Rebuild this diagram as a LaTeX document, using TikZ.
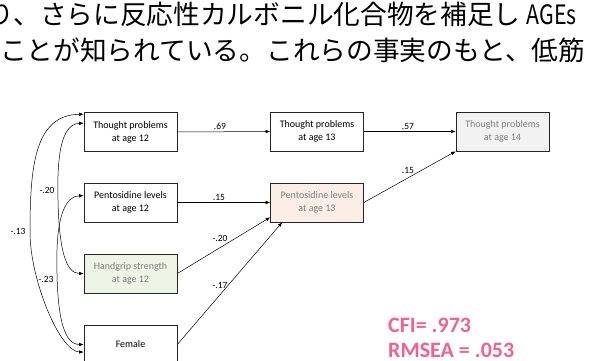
\documentclass[tikz,border=0pt]{standalone}
\usepackage{fontspec}
\usepackage{graphicx}
\setmainfont{Carlito}
\newfontfamily\jpfont{Noto Sans CJK JP}
\usetikzlibrary{arrows.meta,calc}
\definecolor{cfipink}{RGB}{240,98,146}
\definecolor{hgfill}{RGB}{237,244,229}
\definecolor{pfill}{RGB}{251,238,230}
\definecolor{tfill}{RGB}{242,242,242}
\definecolor{softtext}{RGB}{128,128,128}
\begin{document}
\begin{tikzpicture}[x=1pt,y=-1pt,
  box/.style={draw=black!85, line width=0.6pt, minimum width=93pt, minimum height=39pt,
    inner sep=0pt, align=center, font=\fontsize{10}{13}\selectfont},
  softbox/.style={box, text=softtext},
  arr/.style={-{Latex[length=4.5pt,width=3.5pt]}, line width=0.5pt},
  darr/.style={{Latex[length=4.5pt,width=3.5pt]}-{Latex[length=4.5pt,width=3.5pt]}, line width=0.5pt},
  lab/.style={font=\fontsize{9.5}{11}\selectfont, inner sep=0pt},
  jp/.style={font=\jpfont\fontsize{26.7}{30}\selectfont, inner sep=0pt, anchor=base west},
  fit/.style={font=\fontsize{22}{25}\selectfont\bfseries, text=cfipink, inner sep=0pt, anchor=base west}
]
\useasboundingbox (0,0) rectangle (591,361);

% Japanese text lines
\node[jp] (jp1) at (-12.5,25) {り、さらに反応性カルボニル化合物を補足し \scalebox{0.8}[1]{AGEs}};
\node[jp] (jp2) at (0,60) {ことが知られている。これらの事実のもと、低筋};

% boxes
\node[box] (t12) at (130.5,132) {Thought problems\\at age 12};
\node[box] (p12) at (130.5,202.5) {Pentosidine levels\\at age 12};
\node[softbox, fill=hgfill] (hg) at (130.5,273.5) {Handgrip strength\\at age 12};
\begin{scope}
  \clip (0,0) rectangle (591,361);
  \node[box] (fem) at (130.5,344.5) {Female};
\end{scope}
\node[box] (t13) at (317,131.5) {Thought problems\\at age 13};
\node[softbox, fill=pfill] (p13) at (317,202.5) {Pentosidine levels\\at age 13};
\node[softbox, fill=tfill] (t14) at (502.5,131.5) {Thought problems\\at age 14};

% paths
\draw[arr] (t12.east) -- (t13.west);
\draw[arr] (t13.east) -- (t14.west);
\draw[arr] (p12.east) -- (p13.west);
\draw[arr] (p13.east) -- (t14.south west);
\draw[arr] (hg.east) -- ([yshift=5pt]p13.south west);
\draw[arr] (fem.east) -- ([xshift=12pt]p13.south west);

% correlations
\draw[darr] ([yshift=-2pt]t12.north west) .. controls (35,115) and (30,165) .. (30,232)
   .. controls (30,280) and (60,352) .. ([yshift=-7.5pt]fem.west);
\draw[darr] ([yshift=-11pt]t12.north west) .. controls (60,124) and (57,160) .. (58,200)
   .. controls (59,250) and (66,273.5) .. (hg.west);
\draw[darr] ([yshift=-13pt]p12.north west) .. controls (66,196) and (58,215) .. (57,250)
   .. controls (56,310) and (62,344.5) .. (fem.west);

% labels
\node[lab] (l69) at (220,126) {.69};
\node[lab] (l57) at (408,126) {.57};
\node[lab] (l15a) at (219,197) {.15};
\node[lab] (l15b) at (408,170) {.15};
\node[lab] (l20b) at (220,238) {-.20};
\node[lab] (l17) at (220,285) {-.17};
\node[lab] (l13) at (18,231) {-.13};
\node[lab] (l20) at (47,190) {-.20};
\node[lab] (l23) at (46,279) {-.23};

% fit indices
\node[fit] (cfi) at (388,332) {CFI= .973};
\node[fit] (rmsea) at (388,357) {RMSEA = .053};
\end{tikzpicture}
\end{document}
